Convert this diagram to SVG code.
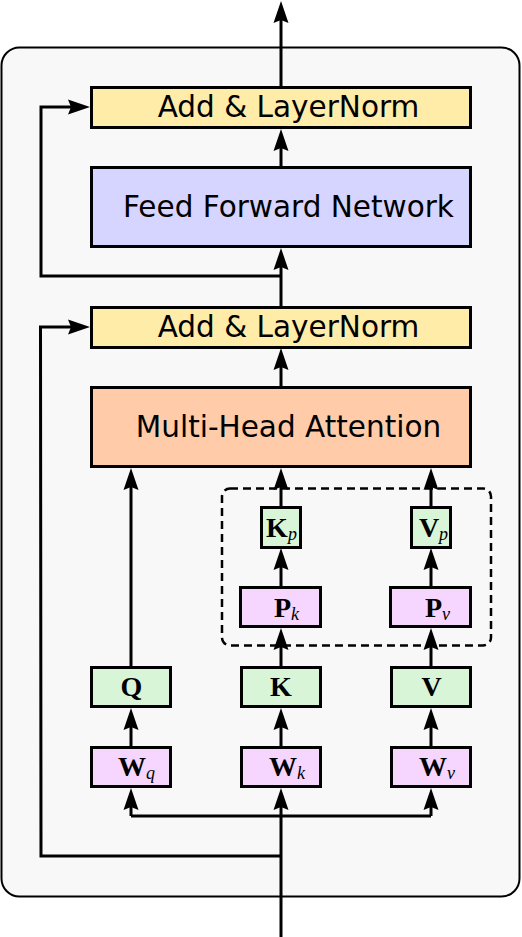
<svg xmlns="http://www.w3.org/2000/svg" width="522" height="937" viewBox="0 0 522 937">
<style>
.box{stroke:#000;stroke-width:3}
.yel{fill:#ffeca8}
.blu{fill:#d5d5ff}
.ora{fill:#ffcba8}
.grn{fill:#d8f5d8}
.pnk{fill:#f6d5fe}
.lbl{font-family:"DejaVu Sans",sans-serif;font-size:29.5px;fill:#000}
.m{font-family:"Liberation Serif","Times New Roman",serif;font-weight:bold;font-size:28px;fill:#000}
.s{font-family:"Liberation Serif",serif;font-style:italic;font-weight:normal;font-size:18px}
.ln{fill:none;stroke:#000;stroke-width:3}
.ar{marker-end:url(#ah)}
</style>
<defs>
<marker id="ah" viewBox="0 0 22 16" markerUnits="userSpaceOnUse" markerWidth="22" markerHeight="16" refX="11" refY="8" orient="auto" overflow="visible">
<path d="M0,0.5 L22,8 L0,15.5 L3,8 z" fill="#000"/>
</marker>
</defs>
<rect id="frame" x="1.5" y="47.5" width="518" height="849" rx="18" fill="#f8f8f8" stroke="#000" stroke-width="2"/>
<rect id="dashed" x="222" y="488.5" width="269" height="157" rx="8" fill="none" stroke="#000" stroke-width="2.5" stroke-dasharray="8,5"/>
<g id="connectors">
<line class="ln ar" x1="281" y1="87" x2="281" y2="12"/>
<line class="ln ar" x1="281" y1="167" x2="281" y2="140"/>
<line class="ln ar" x1="281" y1="307" x2="281" y2="259"/>
<line class="ln ar" x1="281" y1="387" x2="281" y2="359"/>
<polyline class="ln ar" points="281,276 41,276 41,107 79,107"/>
<polyline class="ln ar" points="281,856 41,856 40.5,327 79,327"/>
<line class="ln ar" x1="281" y1="937" x2="281" y2="799"/>
<polyline class="ln ar" points="131,816 131,799"/>
<polyline class="ln" points="131,816 431,816"/>
<polyline class="ln ar" points="431,816 431,799"/>
<line class="ln ar" x1="131" y1="747" x2="131" y2="719"/>
<line class="ln ar" x1="281" y1="747" x2="281" y2="719"/>
<line class="ln ar" x1="431" y1="747" x2="431" y2="719"/>
<line class="ln ar" x1="131" y1="667" x2="131" y2="479"/>
<line class="ln ar" x1="281" y1="667" x2="281" y2="639"/>
<line class="ln ar" x1="431" y1="667" x2="431" y2="639"/>
<line class="ln ar" x1="281" y1="587" x2="281" y2="559"/>
<line class="ln ar" x1="431" y1="587" x2="431" y2="559"/>
<line class="ln ar" x1="281" y1="507" x2="281" y2="479"/>
<line class="ln ar" x1="431" y1="507" x2="431" y2="479"/>
</g>
<g id="addnorm2"><rect class="box yel" x="91.5" y="87.5" width="379" height="40"/><text class="lbl" x="288.5" y="117" text-anchor="middle">Add &amp; LayerNorm</text></g>
<g id="ffn"><rect class="box blu" x="91.5" y="167.5" width="379" height="79"/><text class="lbl" x="288.5" y="217" text-anchor="middle">Feed Forward Network</text></g>
<g id="addnorm1"><rect class="box yel" x="91.5" y="307.5" width="379" height="40"/><text class="lbl" x="288.5" y="337" text-anchor="middle">Add &amp; LayerNorm</text></g>
<g id="mha"><rect class="box ora" x="91.5" y="387.5" width="379" height="79"/><text class="lbl" x="288.5" y="437" text-anchor="middle">Multi-Head Attention</text></g>
<g id="kp"><rect class="box grn" x="261.5" y="507.5" width="39" height="40"/><text class="m" x="281.5" y="537" text-anchor="middle">K<tspan class="s" dy="3">p</tspan></text></g>
<g id="vp"><rect class="box grn" x="411.5" y="507.5" width="39" height="40"/><text class="m" x="433.5" y="537" text-anchor="middle">V<tspan class="s" dy="3">p</tspan></text></g>
<g id="pk"><rect class="box pnk" x="240.5" y="587.5" width="80" height="39"/><text class="m" x="286.5" y="617" text-anchor="middle">P<tspan class="s" dy="3">k</tspan></text></g>
<g id="pv"><rect class="box pnk" x="390.5" y="587.5" width="80" height="39"/><text class="m" x="437.5" y="617" text-anchor="middle">P<tspan class="s" dy="3">v</tspan></text></g>
<g id="q"><rect class="box grn" x="91.5" y="667.5" width="79" height="39"/><text class="m" x="131.5" y="696" text-anchor="middle">Q</text></g>
<g id="k"><rect class="box grn" x="241.5" y="667.5" width="79" height="39"/><text class="m" x="281" y="696" text-anchor="middle">K</text></g>
<g id="v"><rect class="box grn" x="391.5" y="667.5" width="79" height="39"/><text class="m" x="431.5" y="696" text-anchor="middle">V</text></g>
<g id="wq"><rect class="box pnk" x="91.5" y="747.5" width="79" height="39"/><text class="m" x="136.5" y="776" text-anchor="middle">W<tspan class="s" dy="3">q</tspan></text></g>
<g id="wk"><rect class="box pnk" x="241.5" y="747.5" width="79" height="39"/><text class="m" x="287" y="776" text-anchor="middle">W<tspan class="s" dy="3">k</tspan></text></g>
<g id="wv"><rect class="box pnk" x="391.5" y="747.5" width="79" height="39"/><text class="m" x="437" y="776" text-anchor="middle">W<tspan class="s" dy="3">v</tspan></text></g>
</svg>
